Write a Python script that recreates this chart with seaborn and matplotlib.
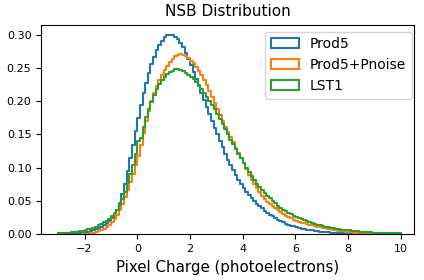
import numpy as np
import pandas as pd
import matplotlib
matplotlib.use("Agg")
import matplotlib.pyplot as plt
from matplotlib.patches import Patch
import seaborn as sns

# Bin heights (density), bins of 0.1 from -3.0 to 10.0
bin_edges = np.round(np.linspace(-3.0, 10.0, 131), 2)

prod5 = [
    0.0004, 0.0005, 0.0006, 0.0007, 0.0008, 0.0010, 0.0012, 0.0015, 0.0019, 0.0024,
    0.0030, 0.0038, 0.0048, 0.0060, 0.0075, 0.0092, 0.0112, 0.0137, 0.0167, 0.0203,
    0.0245, 0.030, 0.037, 0.047, 0.060, 0.076, 0.095, 0.114, 0.134, 0.155,
    0.175, 0.195, 0.212, 0.228, 0.243, 0.256, 0.267, 0.277, 0.285, 0.291,
    0.296, 0.299, 0.300, 0.299, 0.297, 0.293, 0.288, 0.281, 0.273, 0.264,
    0.254, 0.244, 0.234, 0.223, 0.212, 0.202, 0.191, 0.181, 0.170, 0.160,
    0.150, 0.140, 0.131, 0.121, 0.112, 0.104, 0.096, 0.089, 0.082, 0.076,
    0.070, 0.064, 0.059, 0.054, 0.050, 0.046, 0.042, 0.039, 0.035, 0.032,
    0.029, 0.027, 0.024, 0.022, 0.020, 0.018, 0.016, 0.0145, 0.013, 0.012,
    0.011, 0.0098, 0.0088, 0.0080, 0.0072, 0.0065, 0.0058, 0.0052, 0.0047, 0.0042,
    0.0038, 0.0034, 0.0030, 0.0027, 0.0024, 0.0021, 0.0019, 0.0017, 0.0015, 0.0013,
    0.0011, 0.0010, 0.0009, 0.0008, 0.0007, 0.0006, 0.0005, 0.0004, 0.0003, 0.0002,
    0, 0, 0, 0, 0, 0, 0, 0, 0, 0,
]

prod5_pnoise = [
    0, 0, 0, 0, 0, 0, 0, 0, 0, 0.0003,
    0.0006, 0.0010, 0.0015, 0.0022, 0.0032, 0.0045, 0.0062, 0.0083, 0.0110, 0.0143,
    0.0183, 0.023, 0.029, 0.037, 0.046, 0.056, 0.067, 0.079, 0.091, 0.104,
    0.118, 0.134, 0.152, 0.170, 0.186, 0.200, 0.212, 0.223, 0.232, 0.240,
    0.247, 0.253, 0.259, 0.264, 0.268, 0.270, 0.271, 0.270, 0.268, 0.265,
    0.261, 0.257, 0.252, 0.246, 0.240, 0.232, 0.224, 0.216, 0.207, 0.198,
    0.189, 0.180, 0.171, 0.162, 0.154, 0.146, 0.138, 0.130, 0.122, 0.115,
    0.107, 0.098, 0.089, 0.081, 0.075, 0.069, 0.063, 0.058, 0.053, 0.049,
    0.045, 0.042, 0.039, 0.036, 0.033, 0.030, 0.028, 0.026, 0.024, 0.022,
    0.0205, 0.019, 0.0177, 0.0165, 0.0155, 0.0145, 0.0135, 0.0126, 0.0118, 0.0110,
    0.0103, 0.0094, 0.0086, 0.0078, 0.0070, 0.0063, 0.0057, 0.0051, 0.0045, 0.0040,
    0.0035, 0.0031, 0.0027, 0.0024, 0.0021, 0.0018, 0.0015, 0.0012, 0.0010, 0.0008,
    0, 0, 0, 0, 0, 0, 0, 0, 0, 0,
]

lst1 = [
    0.0015, 0.0017, 0.0019, 0.0021, 0.0024, 0.0028, 0.0033, 0.0039, 0.0046, 0.0055,
    0.0065, 0.0076, 0.0088, 0.0102, 0.0118, 0.0136, 0.0156, 0.0180, 0.0207, 0.0238,
    0.0274, 0.0317, 0.037, 0.044, 0.053, 0.064, 0.077, 0.090, 0.104, 0.120,
    0.140, 0.145, 0.162, 0.176, 0.188, 0.199, 0.209, 0.218, 0.226, 0.232,
    0.237, 0.241, 0.244, 0.246, 0.248, 0.248, 0.247, 0.245, 0.243, 0.240,
    0.237, 0.233, 0.229, 0.224, 0.219, 0.213, 0.207, 0.201, 0.195, 0.188,
    0.181, 0.174, 0.166, 0.158, 0.150, 0.142, 0.135, 0.128, 0.121, 0.114,
    0.107, 0.100, 0.093, 0.087, 0.081, 0.076, 0.071, 0.066, 0.062, 0.058,
    0.054, 0.050, 0.047, 0.043, 0.040, 0.037, 0.035, 0.032, 0.030, 0.028,
    0.026, 0.024, 0.0225, 0.021, 0.0195, 0.018, 0.0168, 0.0156, 0.0145, 0.0135,
    0.0125, 0.0116, 0.0107, 0.0099, 0.0091, 0.0084, 0.0078, 0.0072, 0.0067, 0.0063,
    0.0060, 0.0055, 0.0050, 0.0046, 0.0042, 0.0038, 0.0035, 0.0032, 0.0029, 0.0027,
    0.0025, 0.0023, 0.0022, 0.0020, 0.0019, 0.0017, 0.0016, 0.0015, 0.0014, 0.0013,
]

series_names = ["Prod5", "Prod5+Pnoise", "LST1"]
series_values = [prod5, prod5_pnoise, lst1]
colors = ["#1f77b4", "#ff7f0e", "#2ca02c"]


def main():
    fig, ax = plt.subplots(figsize=(4.24, 2.80), dpi=100)
    fig.subplots_adjust(left=0.097, right=0.976, top=0.912, bottom=0.163)

    centers = (bin_edges[:-1] + bin_edges[1:]) / 2
    for name, vals, color in zip(series_names, series_values, colors):
        vals = np.asarray(vals)
        # only draw the stretch where the histogram has entries
        nz = np.nonzero(vals)[0]
        lo, hi = nz[0], nz[-1] + 1
        df = pd.DataFrame({"charge": centers[lo:hi], "density": vals[lo:hi]})
        sns.histplot(
            data=df, x="charge", weights="density",
            bins=bin_edges[lo:hi + 1].tolist(),
            element="step", fill=False, stat="count", color=color,
            linewidth=1.5, ax=ax,
        )

    ax.set_xlim(-3.65, 10.5)
    ax.set_ylim(0, 0.315)
    ax.set_title("NSB Distribution", fontsize=11)
    ax.set_xlabel("Pixel Charge (photoelectrons)", fontsize=10.8)
    ax.set_ylabel("")
    ax.tick_params(labelsize=8)

    handles = [Patch(facecolor="none", edgecolor=c, linewidth=1.5, label=n)
               for n, c in zip(series_names, colors)]
    ax.legend(handles=handles, loc="upper right", fontsize=10,
              bbox_to_anchor=(0.994, 0.967), borderaxespad=0)

    fig.savefig("out.png", dpi=100)


if __name__ == "__main__":
    main()
